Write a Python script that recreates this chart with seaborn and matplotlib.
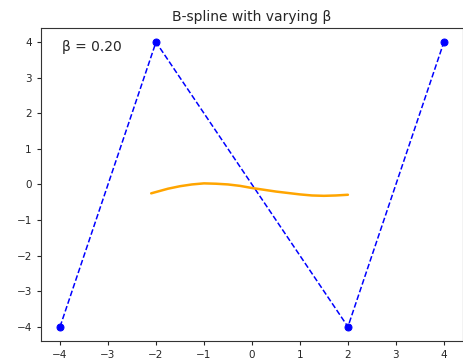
import matplotlib
matplotlib.use("Agg")
import matplotlib.pyplot as plt
import seaborn as sns
import pandas as pd

# control polygon
ctrl_x = [-4, -2, 2, 4]
ctrl_y = [-4, 4, -4, 4]

# spline curve
curve_x = [-2.1, -1.75, -1.5, -1.25, -1.0, -0.75, -0.5, -0.25, 0.0,
           0.25, 0.5, 0.75, 1.0, 1.25, 1.5, 1.75, 2.0]
curve_y = [-0.25, -0.12, -0.05, 0.0, 0.03, 0.02, 0.0, -0.04, -0.1,
           -0.15, -0.2, -0.24, -0.28, -0.31, -0.32, -0.31, -0.29]

beta = 0.20

sns.set_style("white")
plt.rcParams["font.family"] = ["DejaVu Sans"]

fig, ax = plt.subplots(figsize=(4.64, 3.62), dpi=100)
fig.subplots_adjust(left=0.088, right=0.998, top=0.923, bottom=0.058)

ctrl = pd.DataFrame({"x": ctrl_x, "y": ctrl_y})
curve = pd.DataFrame({"x": curve_x, "y": curve_y})

sns.lineplot(data=ctrl, x="x", y="y", sort=False, ax=ax, color="blue",
             linestyle="--", linewidth=1.1, marker="o", markersize=5,
             markeredgecolor="blue")
sns.lineplot(data=curve, x="x", y="y", sort=False, ax=ax, color="orange",
             linewidth=1.8)

ax.set_xlabel("")
ax.set_ylabel("")
ax.set_title("B-spline with varying \u03b2", fontsize=10, pad=5)
ax.text(0.05, 0.96, f"\u03b2 = {beta:.2f}", transform=ax.transAxes,
        fontsize=10, va="top")
ax.tick_params(labelsize=7.5, length=3, left=True, bottom=True)
for s in ax.spines.values():
    s.set_color("#333333")
    s.set_linewidth(0.8)

fig.savefig("out.png", dpi=100)
